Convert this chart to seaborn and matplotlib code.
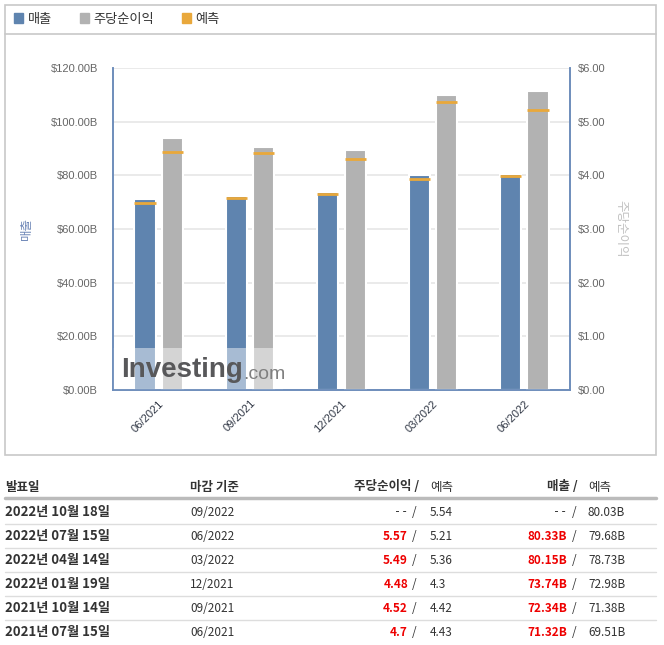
import numpy as np
import pandas as pd
import matplotlib
matplotlib.use("Agg")
import matplotlib.pyplot as plt
from matplotlib.patches import Rectangle, Patch
import seaborn as sns

# chart data (billions of $ / $ per share)
periods = ["06/2021", "09/2021", "12/2021", "03/2022", "06/2022"]
revenue = [71.32, 72.34, 73.74, 80.15, 80.33]
revenue_fc = [69.51, 71.38, 72.98, 78.73, 79.68]
eps = [4.7, 4.52, 4.48, 5.49, 5.57]
eps_fc = [4.43, 4.42, 4.3, 5.36, 5.21]
rev_ticks = [0, 20, 40, 60, 80, 100, 120]
eps_ticks = [0, 1, 2, 3, 4, 5, 6]

# table data
release_dates = ["2022년 10월 18일", "2022년 07월 15일", "2022년 04월 14일",
                 "2022년 01월 19일", "2021년 10월 14일", "2021년 07월 15일"]
table_periods = ["09/2022", "06/2022", "03/2022", "12/2021", "09/2021", "06/2021"]
table_eps = ["--", "5.57", "5.49", "4.48", "4.52", "4.7"]
table_eps_fc = ["5.54", "5.21", "5.36", "4.3", "4.42", "4.43"]
table_rev = ["--", "80.33B", "80.15B", "73.74B", "72.34B", "71.32B"]
table_rev_fc = ["80.03B", "79.68B", "78.73B", "72.98B", "71.38B", "69.51B"]

BLUE = "#5f84af"
GRAY = "#b2b2b2"
ORANGE = "#e9a83b"
SPINE = "#6d8dbb"
TICK = "#666666"
DARK = "#333333"
W, H = 664, 645

sns.set_style("white")
plt.rcParams["font.family"] = ["Noto Sans CJK KR", "DejaVu Sans"]

fig = plt.figure(figsize=(W / 100, H / 100), dpi=100)

# background axes in pixel units: panel frame, legend strip, table
bg = fig.add_axes([0, 0, 1, 1])
bg.set_xlim(0, W)
bg.set_ylim(H, 0)
bg.axis("off")
bg.add_patch(Rectangle((5, 5), 651, 450, fill=False, ec="#c8c8c8", lw=1.2))
bg.plot([5, 656], [34, 34], color="#c8c8c8", lw=1.2)

handles = [Patch(color=BLUE), Patch(color=GRAY), Patch(color=ORANGE)]
fig.legend(handles, ["매출", "주당순이익", "예측"], loc="center left",
           bbox_to_anchor=(2 / W, 1 - 19 / H), ncol=3, frameon=False,
           handlelength=0.7, handleheight=0.7, handletextpad=0.35,
           columnspacing=2.1, fontsize=9.5, labelcolor=DARK)

# main chart
ax = fig.add_axes([113 / W, 1 - 390 / H, 457 / W, 322 / H])
ax.set_facecolor("none")
idx = np.arange(len(periods))
off, bw = 0.15, 0.23
df = pd.DataFrame({"pos_rev": idx - off, "rev": revenue,
                   "pos_eps": idx + off, "eps": eps})

ax.set_axisbelow(True)
ax.grid(axis="y", color="#e6e6e6", lw=1.2)
sns.barplot(data=df, x="pos_rev", y="rev", native_scale=True, width=bw,
            color=BLUE, saturation=1, edgecolor="white", linewidth=1.5,
            errorbar=None, ax=ax)
ax.hlines(revenue_fc, idx - off - bw / 2, idx - off + bw / 2,
          color=ORANGE, lw=2, zorder=3)

ax2 = ax.twinx()
sns.barplot(data=df, x="pos_eps", y="eps", native_scale=True, width=bw,
            color=GRAY, saturation=1, edgecolor="white", linewidth=1.5,
            errorbar=None, ax=ax2)
ax2.hlines(eps_fc, idx + off - bw / 2, idx + off + bw / 2,
           color=ORANGE, lw=2, zorder=3)

ax.set_xlim(-0.5, len(periods) - 0.5)
ax.set_ylim(0, 120)
ax2.set_ylim(0, 6)
ax.set_yticks(rev_ticks)
ax.set_yticklabels([f"${v:.2f}B" for v in rev_ticks])
ax2.set_yticks(eps_ticks)
ax2.set_yticklabels([f"${v:.2f}" for v in eps_ticks])
ax.set_xticks(idx)
ax.set_xticklabels(periods, rotation=45, ha="right", rotation_mode="anchor")
ax.set_xticks(np.arange(len(periods) + 1) - 0.5, minor=True)
ax.tick_params(axis="x", which="major", length=0, pad=6, labelsize=8,
               labelcolor="#2f3644")
ax.tick_params(axis="x", which="minor", length=5, color=SPINE, width=1)
ax.tick_params(axis="y", length=0, pad=11, labelsize=8, labelcolor=TICK)
ax2.tick_params(axis="y", length=0, pad=6, labelsize=8, labelcolor=TICK)
for t in ax.get_xticklabels() + ax.get_yticklabels() + ax2.get_yticklabels():
    t.set_family("Liberation Sans")

for a in (ax, ax2):
    a.set_xlabel("")
    a.spines["top"].set_visible(False)
    for s in ("left", "right", "bottom"):
        a.spines[s].set_color(SPINE)
        a.spines[s].set_linewidth(1.2)
        a.spines[s].set_zorder(7)

ax.set_ylabel("매출", color="#6f88b8", fontsize=9)
ax.yaxis.set_label_coords(-0.175, 0.5)
ax2.set_ylabel("주당순이익", color="#c0c0c0", fontsize=9, rotation=270)
ax2.yaxis.set_label_coords(1.125, 0.5)

# watermark
ax2.add_patch(Rectangle((0, 0), 0.372, 0.13, transform=ax2.transAxes,
                        color="white", alpha=0.45, lw=0, zorder=5))
wm = ax2.text(0.018, 0.04, "Investing", transform=ax2.transAxes,
              family="Liberation Sans", weight="bold", fontsize=20,
              color="#58585a", va="baseline", zorder=6)
ax2.annotate(".com", xy=(1, 0), xycoords=wm, family="Liberation Sans",
             fontsize=14, color="#808080", va="bottom", zorder=6)

# table
hy = 487
bg.text(5, hy, "발표일", fontsize=9, weight="bold", color=DARK, va="center")
bg.text(190, hy, "마감 기준", fontsize=9, weight="bold", color=DARK, va="center")
bg.text(419, hy, "주당순이익 /", fontsize=9, weight="bold", color=DARK,
        va="center", ha="right")
bg.text(430, hy, "예측", fontsize=9, color=DARK, va="center")
bg.text(578, hy, "매출 /", fontsize=9, weight="bold", color=DARK,
        va="center", ha="right")
bg.text(588, hy, "예측", fontsize=9, color=DARK, va="center")
bg.plot([5, 656], [498, 498], color="#bbbbbb", lw=2.5)

for i in range(len(release_dates)):
    y = 512 + 24 * i
    bg.text(5, y, release_dates[i], fontsize=9.5, weight="bold",
            color=DARK, va="center")
    bg.text(190, y, table_periods[i], fontsize=8.5, color=DARK, va="center")
    red = table_eps[i] != "--"
    style = dict(fontsize=8.5, va="center", ha="right",
                 weight="bold" if red else "normal",
                 color="#ee0000" if red else DARK,
                 family="Noto Sans CJK KR" if red else "DejaVu Sans Mono")
    bg.text(408, y, table_eps[i], **style)
    bg.text(414, y, "/", fontsize=8.5, color=DARK, va="center", ha="center")
    bg.text(430, y, table_eps_fc[i], fontsize=8.5, color=DARK, va="center")
    bg.text(567, y, table_rev[i], **style)
    bg.text(574, y, "/", fontsize=8.5, color=DARK, va="center", ha="center")
    bg.text(588, y, table_rev_fc[i], fontsize=8.5, color=DARK, va="center")
    if i < len(release_dates) - 1:
        bg.plot([5, 656], [y + 12, y + 12], color="#dddddd", lw=1)

fig.savefig("out.png", dpi=100)
